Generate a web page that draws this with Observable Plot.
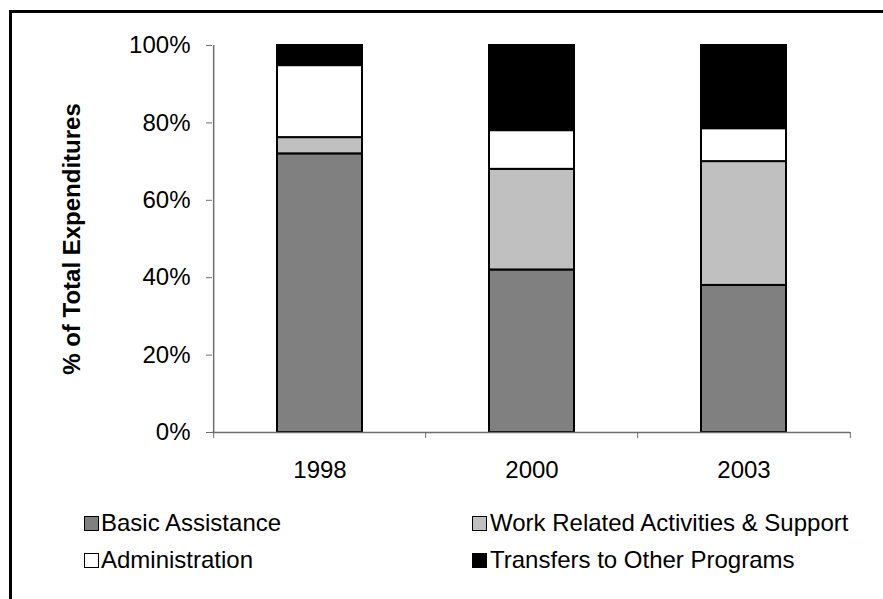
<!DOCTYPE html>
<html>
<head>
<meta charset="utf-8">
<script src="https://cdn.jsdelivr.net/npm/d3@7"></script>
<script src="https://cdn.jsdelivr.net/npm/@observablehq/plot@0.6"></script>
<style>
  html, body { margin: 0; padding: 0; background: #fff; }
  body { width: 883px; height: 599px; overflow: hidden; position: relative; font-family: "Liberation Sans", Arial, sans-serif; }
  #frame { position: absolute; left: 9px; top: 10px; width: 900px; height: 700px; border: 3px solid #000; box-sizing: border-box; }
  #chart { position: absolute; left: 0; top: 0; }
  .leg { position: absolute; font-size: 24px; line-height: 24px; color: #000; white-space: nowrap; }
  .sw { position: absolute; width: 15px; height: 15px; border: 1px solid #000; box-sizing: border-box; }
</style>
</head>
<body>
<div id="frame"></div>
<div id="chart"></div>
<div id="legend"></div>
<script>
// ---- data ----
const years = ["1998", "2000", "2003"];
const categories = [
  "Basic Assistance",
  "Work Related Activities & Support",
  "Administration",
  "Transfers to Other Programs"
];
const basicAssistance = [72, 42, 38];
const workRelated = [4.2, 26, 32];
const administration = [18.6, 10, 8.5];
const transfers = [5.2, 22, 21.5];
const yTicks = [0, 20, 40, 60, 80, 100];
const colors = ["#808080", "#c0c0c0", "#ffffff", "#000000"];
const yTitle = "% of Total Expenditures";

const seriesValues = [basicAssistance, workRelated, administration, transfers];
const rows = [];
years.forEach((yr, i) => {
  categories.forEach((cat, k) => rows.push({year: yr, category: cat, value: seriesValues[k][i]}));
});

// ---- layout ----
const W = 883, H = 500, ML = 212, MR = 33, MT = 45, MB = 68;
const step = (W - ML - MR) / years.length;
const axisColor = "#6e6e6e";

const chart = Plot.plot({
  width: W,
  height: H,
  marginLeft: ML,
  marginRight: MR,
  marginTop: MT,
  marginBottom: MB,
  style: {fontFamily: "'Liberation Sans', Arial, sans-serif", fontSize: "24px", color: "#000", background: "transparent", overflow: "visible"},
  x: {domain: years, paddingInner: 0.6, paddingOuter: 0.3, label: null},
  y: {domain: [0, 100], label: null},
  color: {domain: categories, range: colors},
  marks: [
    Plot.barY(rows, {x: "year", y: "value", fill: "category", stroke: "#000", strokeWidth: 2}),
    Plot.ruleY([0], {stroke: axisColor, strokeWidth: 1.5}),
    Plot.ruleX([years[0]], {x: d => d, y1: 0, y2: 100, dx: -step / 2, stroke: axisColor, strokeWidth: 1.5}),
    Plot.axisY({ticks: yTicks, tickSize: 6, tickPadding: 16, tickFormat: d => d + "%", stroke: axisColor, label: null}),
    Plot.axisX({tickSize: 0, tickPadding: 28, label: null}),
    Plot.axisX({tickSize: 6, tickFormat: () => "", dx: -step / 2, stroke: axisColor, label: null}),
    Plot.axisX({ticks: [years[years.length - 1]], tickSize: 6, tickFormat: () => "", dx: step / 2, stroke: axisColor, label: null}),
    Plot.text([yTitle], {frameAnchor: "left", dx: -140, rotate: -90, fontWeight: "bold", fontSize: 24, lineAnchor: "middle", textAnchor: "middle", fill: "#000"})
  ]
});
document.getElementById("chart").appendChild(chart);

// ---- legend (HTML, below the SVG) ----
const legend = document.getElementById("legend");
const legPos = [
  {sx: 84, tx: 101, top: 516},
  {sx: 472, tx: 490, top: 516},
  {sx: 84, tx: 101, top: 553},
  {sx: 472, tx: 490, top: 553}
];
categories.forEach((cat, k) => {
  const p = legPos[k];
  const sw = document.createElement("div");
  sw.className = "sw";
  sw.style.left = p.sx + "px";
  sw.style.top = p.top + "px";
  sw.style.background = colors[k];
  legend.appendChild(sw);
  const t = document.createElement("div");
  t.className = "leg";
  t.style.left = p.tx + "px";
  t.style.top = (p.top - 5) + "px";
  t.textContent = cat;
  legend.appendChild(t);
});
</script>
</body>
</html>
